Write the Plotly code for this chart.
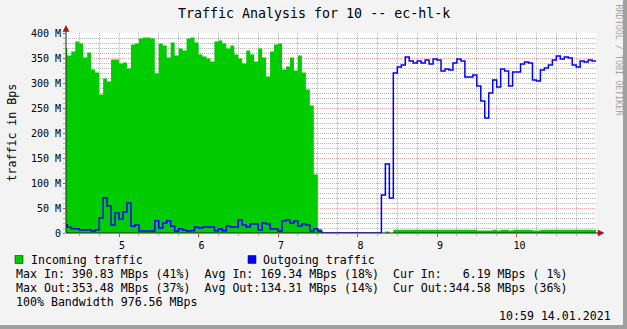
import plotly.graph_objects as go

# ---------------- data (MBps, 3-minute steps starting 04:18) ----------------
START_HOUR = 4 + 18 / 60
STEP_HOURS = 3 / 60

incoming = [
    370, 355, 363, 383, 379, 351, 361, 327, 321, 277,
    309, 303, 347, 347, 339, 341, 329, 377, 379, 389,
    391, 391, 389, 319, 379, 375, 351, 381, 355, 369,
    365, 389, 391, 381, 357, 353, 349, 343, 383, 385,
    379, 369, 375, 357, 349, 339, 365, 357, 343, 369,
    351, 313, 363, 377, 379, 327, 333, 351, 325, 355,
    321, 287, 255, 117, 8,
    0, 0, 0, 0, 0, 0, 0, 0, 0, 0, 0, 0, 0, 0, 0, 0,
    3, 0,
    6.5, 6.5, 6.5, 6.5, 6.5, 6.5, 6.5, 6.5, 6.5, 6.5,
    6.5, 6.5, 6.5, 6.5, 6.5, 6.5, 6.5, 6.5, 6.5, 6.5,
    6.5, 4.8, 4.8, 4.8, 4.8, 6.5, 4.8, 6.5, 6.5, 4.8,
    6.5, 6.5, 6.5, 6.5, 6.5, 4.8, 4.8, 6.5, 6.5, 6.5,
    6.5, 6.5, 6.5, 6.5, 6.5, 6.5, 6.5, 6.5, 6.5, 6.5,
    6.2,
]

outgoing = [
    16.6, 11.3, 8.6, 8.6, 6, 6, 6, 4, 6, 29.9,
    69.9, 53.9, 15.9, 39.9, 27.9, 41.9, 59.9, 13.3, 15.9, 4,
    4, 4, 4, 24.6, 9.9, 19.9, 24.6, 13.3, 4, 8.6,
    6, 4, 4.6, 11.9, 9.9, 11.9, 11.9, 11.9, 4.6, 7.9,
    4.6, 13.9, 11.9, 11.9, 25.9, 15.9, 11.9, 17.9, 17.9, 5.9,
    19.9, 17.9, 7.9, 7.9, 3.9, 23.9, 25.9, 19.9, 23.9, 13.9,
    17.9, 15.9, 3.9, 8.6, 3.9,
    0, 0, 0, 0, 0, 0, 0, 0, 0, 0, 0, 0, 0, 0, 0,
    75.9, 137.9, 69.9, 319.9, 331.9, 335.9, 351.9, 343.9, 339.9, 343.9,
    339.9, 345.9, 337.9, 347.9, 345.9, 323.9, 327.9, 325.9, 339.9, 347.9,
    343.9, 311.9, 311.9, 315.9, 293.9, 263.9, 229.9, 279.9, 305.9, 291.9,
    327.9, 323.9, 293.9, 321.9, 321.9, 337.9, 341.9, 339.9, 305.9, 303.9,
    325.9, 329.9, 335.9, 345.9, 353.9, 347.9, 351.9, 349.9, 335.9, 331.9,
    343.9, 341.9, 345.9, 343.9,
]

hour_ticks = [5, 6, 7, 8, 9, 10]
hour_labels = ["5", "6", "7", "8", "9", "10"]
y_ticks = [0, 50, 100, 150, 200, 250, 300, 350, 400]
y_labels = ["0", "50 M", "100 M", "150 M", "200 M", "250 M", "300 M", "350 M", "400 M"]

title_text = "Traffic Analysis for 10 -- ec-hl-k"
y_title = "traffic in Bps"
legend_in = "Incoming traffic"
legend_out = "Outgoing traffic"
stat_lines = [
    "Max In: 390.83 MBps (41%)  Avg In: 169.34 MBps (18%)  Cur In:   6.19 MBps ( 1%)",
    "Max Out:353.48 MBps (37%)  Avg Out:134.31 MBps (14%)  Cur Out:344.58 MBps (36%)",
    "100% Bandwidth 976.56 MBps",
]
timestamp = "10:59 14.01.2021"
watermark = "RRDTOOL / TOBI OETIKER"

# ---------------- layout geometry ----------------
W, H = 627, 329
PL, PT, PW, PH = 66, 33, 530, 200
MONO = "DejaVu Sans Mono"
GREEN = "#00CC00"
BLUE = "#0000FF"


def px(x):
    return (x - PL) / PW


def py(y):
    return (PT + PH - y) / PH


n = len(incoming)
times = [START_HOUR + i * STEP_HOURS for i in range(n + 1)]
inc_ext = incoming + [incoming[-1]]
out_ext = outgoing + [outgoing[-1]]

fig = go.Figure()
fig.add_trace(go.Scatter(
    x=times, y=inc_ext, mode="lines",
    line=dict(width=0, shape="hv", color=GREEN),
    fill="tozeroy", fillcolor=GREEN, hoverinfo="skip", showlegend=False,
))
fig.add_trace(go.Scatter(
    x=times, y=out_ext, mode="lines",
    line=dict(width=1.5, shape="hv", color=BLUE),
    hoverinfo="skip", showlegend=False,
))

MINOR_GRID = "#b4b4b4"
MAJOR_GRID = "#e8a4a4"
DASH = "1px,1px"

fig.update_layout(
    width=W, height=H,
    margin=dict(l=PL, r=W - PL - PW, t=PT, b=H - PT - PH, pad=0),
    paper_bgcolor="#F3F3F3", plot_bgcolor="#FFFFFF",
    showlegend=False,
    font=dict(family=MONO, color="#000000", size=10),
    xaxis=dict(
        range=[4 + 20 / 60, 10.999], showline=False, zeroline=False,
        tickmode="array", tickvals=hour_ticks, ticktext=hour_labels,
        showgrid=True, gridcolor=MAJOR_GRID, griddash=DASH, gridwidth=1,
        ticks="outside", ticklen=3, tickcolor="#d04040", tickwidth=1,
        tickfont=dict(family=MONO, size=10), ticklabelshift=3,
        minor=dict(tickmode="linear", tick0=0, dtick=0.25, showgrid=True,
                   gridcolor=MINOR_GRID, griddash=DASH, ticks="outside",
                   ticklen=2, tickcolor="#b0b0b0"),
        fixedrange=True,
    ),
    yaxis=dict(
        range=[0, 400], showline=False, zeroline=False,
        tickmode="array", tickvals=y_ticks, ticktext=y_labels,
        showgrid=True, gridcolor=MAJOR_GRID, griddash=DASH, gridwidth=1,
        ticks="outside", ticklen=2, tickcolor="#d04040",
        tickfont=dict(family=MONO, size=10),
        minor=dict(tickmode="linear", tick0=0, dtick=10, showgrid=True,
                   gridcolor=MINOR_GRID, griddash=DASH, ticks="outside",
                   ticklen=2, tickcolor="#b0b0b0"),
        fixedrange=True,
    ),
)

shapes = []
AXIS = "#202020"
ARROW = "#a01818"
# axis lines
shapes.append(dict(type="line", xref="paper", yref="paper", x0=px(66), x1=px(600),
                   y0=py(233), y1=py(233), line=dict(color=AXIS, width=1), layer="above"))
shapes.append(dict(type="line", xref="paper", yref="paper", x0=px(66), x1=px(66),
                   y0=py(233), y1=py(28), line=dict(color=AXIS, width=1), layer="above"))
# arrows
shapes.append(dict(type="path", xref="paper", yref="paper",
                   path=f"M {px(63)} {py(31.5)} L {px(69)} {py(31.5)} L {px(66)} {py(25.5)} Z",
                   fillcolor=ARROW, line=dict(color=ARROW, width=0.5), layer="above"))
shapes.append(dict(type="path", xref="paper", yref="paper",
                   path=f"M {px(598)} {py(230)} L {px(598)} {py(236)} L {px(604)} {py(233)} Z",
                   fillcolor=ARROW, line=dict(color=ARROW, width=0.5), layer="above"))
# frame shading (right / bottom)
shapes.append(dict(type="rect", xref="paper", yref="paper", x0=px(623), x1=px(628),
                   y0=py(330), y1=py(-1), fillcolor="#a0a0a0", line=dict(width=0)))
shapes.append(dict(type="rect", xref="paper", yref="paper", x0=px(-1), x1=px(628),
                   y0=py(330), y1=py(325), fillcolor="#a0a0a0", line=dict(width=0)))
# legend boxes
for x0, col in [(15, GREEN), (248, BLUE)]:
    shapes.append(dict(type="rect", xref="paper", yref="paper", x0=px(x0), x1=px(x0 + 8),
                       y0=py(263.5), y1=py(255.5), fillcolor=col,
                       line=dict(color="#202020", width=0.6)))
fig.update_layout(shapes=shapes)

NB = "\u00a0"
ann = []


def text(x, y, s, size=11.6, xanchor="left", color="#000000", angle=0):
    ann.append(dict(xref="paper", yref="paper", x=px(x), y=py(y), text=s.replace(" ", NB),
                    showarrow=False, xanchor=xanchor, yanchor="middle",
                    font=dict(family=MONO, size=size, color=color),
                    borderpad=0, borderwidth=0, textangle=angle))


text(313.5, 13.3, title_text, size=13.3, xanchor="center")
text(11, 132.5, y_title, size=11.6, xanchor="center", angle=-90)
text(31, 259.5, legend_in)
text(263, 259.5, legend_out)
for k, s in enumerate(stat_lines):
    text(16, 273.5 + 14.1 * k, s)
text(610.5, 315.8, timestamp, xanchor="right")
text(618.5, 60, watermark, size=8.4, xanchor="center", color="#a4a4a4", angle=90)
fig.update_layout(annotations=ann)

fig.write_html("out.html")
